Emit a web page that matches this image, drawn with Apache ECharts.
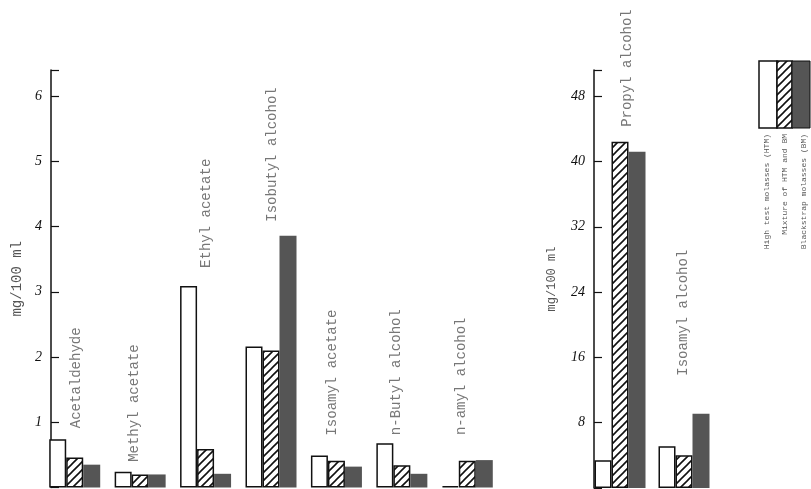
<!DOCTYPE html>
<html>
<head>
<meta charset="utf-8">
<script src="https://cdn.jsdelivr.net/npm/echarts@6/dist/echarts.min.js"></script>
<style>
  html, body { margin: 0; padding: 0; background: #fff; }
  #chart { width: 811px; height: 489px; }
</style>
</head>
<body>
<div id="chart"></div>
<script>
// volatile components, mg/100 ml, by molasses type
var leftCategories = ['Acetaldehyde', 'Methyl acetate', 'Ethyl acetate', 'Isobutyl alcohol', 'Isoamyl acetate', 'n-Butyl alcohol', 'n-amyl alcohol'];
var leftHTM = [0.74, 0.24, 3.09, 2.16, 0.49, 0.68, 0.02];
var leftMix = [0.46, 0.20, 0.59, 2.10, 0.41, 0.34, 0.41];
var leftBM  = [0.35, 0.20, 0.21, 3.86, 0.32, 0.21, 0.42];
var leftTicks = [1, 2, 3, 4, 5, 6];

var rightCategories = ['Propyl alcohol', 'Isoamyl alcohol'];
var rightHTM = [3.4, 5.1];
var rightMix = [42.4, 4.0];
var rightBM  = [41.2, 9.1];
var rightTicks = [8, 16, 24, 32, 40, 48];

var seriesNames = ['High test molasses (HTM)', 'Mixture of HTM and BM', 'Blackstrap molasses (BM)'];

// label placement tweaks (px): gap above tallest bar, sideways shift
var leftLabelGap = [11, 10, 18, 14, 20, 8, 25];
var leftLabelShift = [2, -6, 1, 1, -4, -6, -6];
var rightLabelGap = [15, 38];
var rightLabelShift = [7, -1];

var grey = '#555555';
var labelFont = '"Liberation Mono", "DejaVu Sans Mono", monospace';

// hatch pattern for the mixture bars
function makeHatch() {
  var s = 8;
  var c = document.createElement('canvas');
  c.width = s; c.height = s;
  var ctx = c.getContext('2d');
  ctx.fillStyle = '#fff';
  ctx.fillRect(0, 0, s, s);
  ctx.strokeStyle = '#111';
  ctx.lineWidth = 1.6;
  ctx.beginPath();
  ctx.moveTo(-1, s + 1); ctx.lineTo(s + 1, -1);
  ctx.moveTo(-1, 1); ctx.lineTo(1, -1);
  ctx.moveTo(s - 1, s + 1); ctx.lineTo(s + 1, s - 1);
  ctx.stroke();
  return c;
}
var hatch = { image: makeHatch(), repeat: 'repeat' };

var styles = [
  { color: '#ffffff', borderColor: '#111', borderWidth: 1.5 },
  { color: hatch, borderColor: '#111', borderWidth: 1.5 },
  { color: grey, borderWidth: 0 }
];

function groupMax(a, b, c) {
  return a.map(function (v, i) { return Math.max(v, b[i], c[i]); });
}

function yAxisFor(gridIndex, max, interval, ticks, offset, nameGap, nameSize) {
  return {
    type: 'value', gridIndex: gridIndex, min: 0, max: max, interval: interval,
    offset: offset,
    name: 'mg/100 ml', nameLocation: 'middle', nameRotate: 90, nameGap: nameGap,
    nameTextStyle: { color: grey, fontFamily: labelFont, fontSize: nameSize },
    axisLine: { show: true, lineStyle: { color: '#111', width: 1.5 } },
    axisTick: { show: true, inside: true, length: 8, lineStyle: { color: '#111', width: 1.2 } },
    splitLine: { show: false },
    axisLabel: {
      margin: 9, color: '#111', fontFamily: '"Liberation Serif", serif', fontStyle: 'italic', fontSize: 14,
      formatter: function (v) { return ticks.indexOf(v) >= 0 ? String(v) : ''; }
    }
  };
}

function xAxisFor(gridIndex, cats) {
  return {
    type: 'category', gridIndex: gridIndex, data: cats,
    axisLine: { show: false }, axisTick: { show: false }, axisLabel: { show: false }
  };
}

function barSeries(axisIndex, data, k) {
  return {
    type: 'bar', name: seriesNames[k], xAxisIndex: axisIndex, yAxisIndex: axisIndex,
    data: data, barWidth: 17, barGap: '0%', itemStyle: styles[k], silent: true
  };
}

// label offset is in the rotated text frame: [along text, across text]
function labelSeries(axisIndex, cats, maxes, gaps, shifts) {
  return {
    type: 'scatter', xAxisIndex: axisIndex, yAxisIndex: axisIndex, symbolSize: 0, silent: true,
    data: maxes.map(function (v, i) {
      return { value: [i, v], label: { distance: gaps[i], offset: [0, shifts[i]] } };
    }),
    label: {
      show: true, position: 'top', rotate: 90, align: 'left', verticalAlign: 'middle',
      color: grey, fontFamily: labelFont, fontSize: 14,
      formatter: function (p) { return cats[p.dataIndex]; }
    }
  };
}

// legend block drawn as graphics
var legendGraphic = [
  { type: 'rect', shape: { x: 759, y: 61, width: 18, height: 67 }, style: { fill: '#fff', stroke: '#111', lineWidth: 1.5 } },
  { type: 'rect', shape: { x: 777, y: 61, width: 15, height: 67 }, style: { fill: hatch, stroke: '#111', lineWidth: 1.5 } },
  { type: 'rect', shape: { x: 792, y: 61, width: 18, height: 67 }, style: { fill: grey, stroke: '#111', lineWidth: 1 } }
];
[767, 785, 804].forEach(function (x, k) {
  legendGraphic.push({
    type: 'text', x: x, y: 134, rotation: Math.PI / 2,
    style: { text: seriesNames[k], fill: grey, font: '8px ' + labelFont, align: 'right', verticalAlign: 'middle' }
  });
});

var chart = echarts.init(document.getElementById('chart'));
chart.setOption({
  backgroundColor: '#fff',
  animation: false,
  grid: [
    { left: 42, top: 70, width: 458, height: 417.5 },
    { left: 588, top: 70, width: 128, height: 418 }
  ],
  xAxis: [xAxisFor(0, leftCategories), xAxisFor(1, rightCategories)],
  yAxis: [
    yAxisFor(0, 6.4, 1, leftTicks, -9, 25, 14),
    yAxisFor(1, 51.2, 8, rightTicks, -6, 36, 12)
  ],
  series: [
    barSeries(0, leftHTM, 0),
    barSeries(0, leftMix, 1),
    barSeries(0, leftBM, 2),
    barSeries(1, rightHTM, 0),
    barSeries(1, rightMix, 1),
    barSeries(1, rightBM, 2),
    labelSeries(0, leftCategories, groupMax(leftHTM, leftMix, leftBM), leftLabelGap, leftLabelShift),
    labelSeries(1, rightCategories, groupMax(rightHTM, rightMix, rightBM), rightLabelGap, rightLabelShift)
  ],
  graphic: legendGraphic
});
</script>
</body>
</html>
